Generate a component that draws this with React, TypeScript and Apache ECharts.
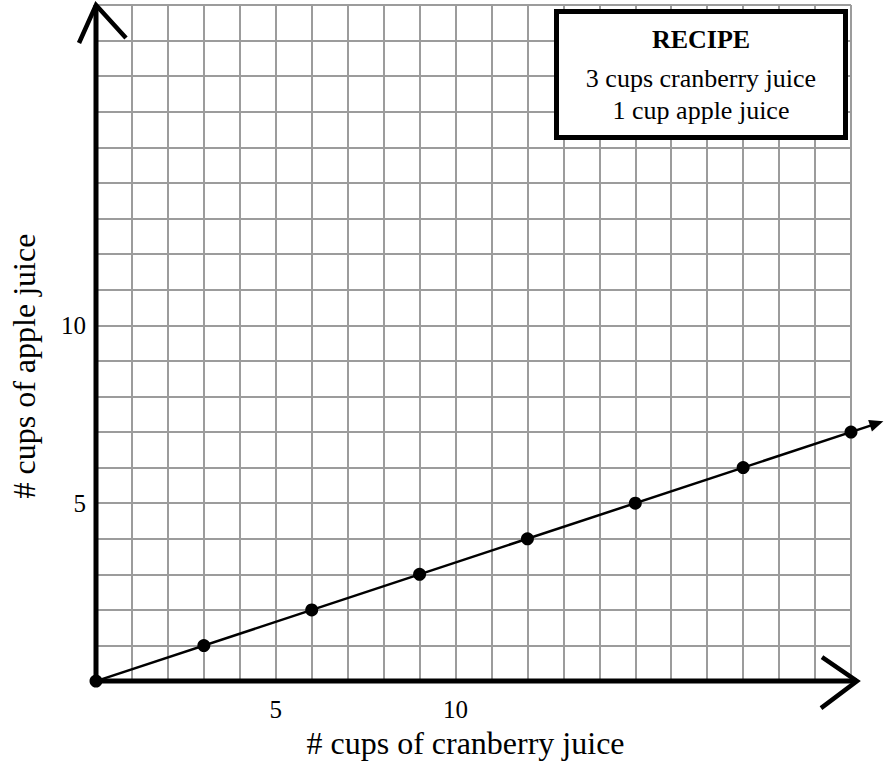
import React, { useEffect, useRef } from "react";
import * as echarts from "echarts";

const cranberryCups = [0, 3, 6, 9, 12, 15, 18, 21];
const appleCups = [0, 1, 2, 3, 4, 5, 6, 7];
const lineEnd = [21.9, 7.3];
const xTickLabels = [5, 10];
const yTickLabels = [5, 10];
const xMax = 21;
const yMax = 19;
const recipeTitle = "RECIPE";
const recipeLines = ["3 cups cranberry juice", "1 cup apple juice"];
const xName = "# cups of cranberry juice";
const yName = "# cups of apple juice";

const FONT = "'Liberation Serif', 'Times New Roman', Times, serif";

export default function App() {
  const ref = useRef<HTMLDivElement>(null);
  useEffect(() => {
    if (!ref.current) return;
    const chart = echarts.init(ref.current, undefined, { renderer: "svg" });
    const points = cranberryCups.map((x, i) => [x, appleCups[i]]);
    const option: any = {
      animation: false,
      backgroundColor: "#fff",
      grid: { left: 93, top: 5, width: 758, height: 679 },
      xAxis: {
        type: "value",
        min: 0,
        max: xMax,
        interval: 1,
        axisLine: { show: false },
        axisTick: { show: false },
        splitLine: { show: true, lineStyle: { color: "#9c9c9c", width: 2 } },
        axisLabel: {
          formatter: (v: number) => (xTickLabels.includes(v) ? String(v) : ""),
          fontFamily: FONT,
          fontSize: 25,
          color: "#000",
          margin: 16,
        },
        name: xName,
        nameLocation: "middle",
        nameGap: 44,
        nameTextStyle: { fontFamily: FONT, fontSize: 32, color: "#000", padding: [0, 16, 0, 0] },
      },
      yAxis: {
        type: "value",
        min: 0,
        max: yMax,
        interval: 1,
        axisLine: { show: false },
        axisTick: { show: false },
        splitLine: { show: true, lineStyle: { color: "#9c9c9c", width: 2 } },
        axisLabel: {
          formatter: (v: number) => (yTickLabels.includes(v) ? String(v) : ""),
          fontFamily: FONT,
          fontSize: 25,
          color: "#000",
          margin: 10,
        },
        name: yName,
        nameLocation: "middle",
        nameRotate: 90,
        nameGap: 56,
        nameTextStyle: { fontFamily: FONT, fontSize: 32, color: "#000", padding: [0, 46, 0, 0] },
      },
      graphic: [
        {
          type: "rect",
          z: 100,
          shape: { x: 556.5, y: 11.5, width: 289, height: 126 },
          style: { fill: "#fff", stroke: "#000", lineWidth: 5 },
        },
        {
          type: "text",
          z: 101,
          x: 701,
          y: 39,
          style: {
            text: recipeTitle,
            fontFamily: FONT,
            fontSize: 26,
            fontWeight: "bold",
            fill: "#000",
            align: "center",
            verticalAlign: "middle",
          },
        },
        ...recipeLines.map((t, i) => ({
          type: "text",
          z: 101,
          x: 701,
          y: 78 + i * 32,
          style: {
            text: t,
            fontFamily: FONT,
            fontSize: 26,
            fill: "#000",
            align: "center",
            verticalAlign: "middle",
          },
        })),
      ],
      series: [
        {
          type: "custom",
          clip: false,
          silent: true,
          z: 5,
          data: [[0, 0, xMax, yMax]],
          renderItem: (params: any, api: any) => {
            const o = api.coord([api.value(0), api.value(1)]);
            const yTop = api.coord([api.value(0), api.value(3)]);
            const xEndBase = api.coord([api.value(2), api.value(1)]);
            const xTip = [xEndBase[0] + 6, xEndBase[1]];
            return {
              type: "group",
              children: [
                {
                  type: "polyline",
                  shape: { points: [yTop, o, xTip] },
                  style: { stroke: "#000", lineWidth: 5, fill: null, lineJoin: "miter" },
                },
                {
                  type: "polyline",
                  shape: {
                    points: [
                      [yTop[0] - 17, yTop[1] + 38],
                      yTop,
                      [yTop[0] + 30, yTop[1] + 33],
                    ],
                  },
                  style: { stroke: "#000", lineWidth: 4.5, fill: null },
                },
                {
                  type: "polyline",
                  shape: {
                    points: [
                      [xTip[0] - 35, xTip[1] - 24],
                      xTip,
                      [xTip[0] - 36, xTip[1] + 27],
                    ],
                  },
                  style: { stroke: "#000", lineWidth: 4.5, fill: null },
                },
              ],
            };
          },
        },
        {
          type: "custom",
          clip: false,
          silent: true,
          z: 6,
          data: [[cranberryCups[0], appleCups[0], lineEnd[0], lineEnd[1]]],
          renderItem: (params: any, api: any) => {
            const p1 = api.coord([api.value(0), api.value(1)]);
            const p2 = api.coord([api.value(2), api.value(3)]);
            const dx = p2[0] - p1[0];
            const dy = p2[1] - p1[1];
            const len = Math.hypot(dx, dy);
            const ux = dx / len;
            const uy = dy / len;
            const L = 14;
            const W = 6;
            const base = [p2[0] - ux * L, p2[1] - uy * L];
            return {
              type: "group",
              children: [
                {
                  type: "line",
                  shape: { x1: p1[0], y1: p1[1], x2: base[0] + ux * 2, y2: base[1] + uy * 2 },
                  style: { stroke: "#000", lineWidth: 2.5 },
                },
                {
                  type: "polygon",
                  shape: {
                    points: [
                      p2,
                      [base[0] - uy * W, base[1] + ux * W],
                      [base[0] + uy * W, base[1] - ux * W],
                    ],
                  },
                  style: { fill: "#000" },
                },
              ],
            };
          },
        },
        {
          type: "scatter",
          data: points,
          symbol: "circle",
          symbolSize: 13,
          itemStyle: { color: "#000", opacity: 1 },
          clip: false,
          silent: true,
          z: 7,
        },
      ],
    };
    chart.setOption(option);
    return () => chart.dispose();
  }, []);
  return (
    <div
      ref={ref}
      style={{ position: "fixed", left: 0, top: 0, width: 884, height: 764, background: "#fff" }}
    />
  );
}
